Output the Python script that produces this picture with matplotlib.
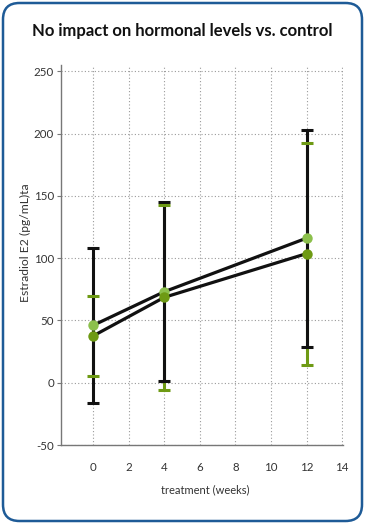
import matplotlib
matplotlib.use("Agg")
import matplotlib.pyplot as plt
from matplotlib.patches import FancyBboxPatch

weeks = [0, 4, 12]
light_mean = [46, 73, 116]
light_err = [62, 72, 87]
dark_mean = [37.5, 68.5, 103.6]
dark_err = [32, 74, 89]
xticks = [0, 2, 4, 6, 8, 10, 12, 14]
yticks = [-50, 0, 50, 100, 150, 200, 250]

LIGHT = "#8cc04c"
DARK = "#6e9a14"
FONT = ["Lato", "DejaVu Sans"]
plt.rcParams['font.family'] = FONT
plt.rcParams['axes.unicode_minus'] = False

fig = plt.figure(figsize=(3.65, 5.24), dpi=100)
W, H = 365, 524
ax = fig.add_axes([61 / W, 1 - 445 / H, (343 - 61) / W, (445 - 65) / H])

# dark series errorbar (green) behind
eb_d = ax.errorbar(weeks, dark_mean, yerr=dark_err, fmt='none', ecolor=DARK,
                   elinewidth=2.2, capsize=4.5, capthick=2.2, zorder=2)
eb_l = ax.errorbar(weeks, light_mean, yerr=light_err, fmt='none', ecolor='#111111',
                   elinewidth=2.2, capsize=4.5, capthick=2.2, zorder=3)
for c in eb_d[1]:
    c.set_zorder(4)

ax.plot(weeks, light_mean, color='#111111', lw=2.3, zorder=5)
ax.plot(weeks, dark_mean, color='#111111', lw=2.3, zorder=5)
ax.plot(weeks, light_mean, 'o', color=LIGHT, ms=7.5, mec='none', zorder=6)
ax.plot(weeks, dark_mean, 'o', color=DARK, ms=7.5, mec='none', zorder=7)

ax.set_xlim(-1.8, 14.05)
ax.set_ylim(-50, 255)
ax.set_xticks(xticks)
ax.set_yticks(yticks)
ax.grid(True, color='#9a9a9a', linestyle=(0, (1, 2)), linewidth=0.8)
ax.set_axisbelow(True)
for s in ['top', 'right']:
    ax.spines[s].set_visible(False)
for s in ['left', 'bottom']:
    ax.spines[s].set_color('#777777')
    ax.spines[s].set_linewidth(1.0)
ax.tick_params(axis='x', length=0, pad=12, labelsize=8.3, labelcolor='#333333')
ax.tick_params(axis='y', length=3, width=0.8, color='#777777', pad=2, labelsize=8.3, labelcolor='#333333')

fig.text(25 / W, 1 - 243 / H, "Estradiol E2 (pg/mL)ta", rotation=90, ha='center', va='center',
         fontsize=8.7, color='#333333')
fig.text(205 / W, 1 - 490 / H, "treatment (weeks)", ha='center', va='center',
         fontsize=8, color='#333333')
fig.text(182 / W, 1 - 31 / H, "No impact on hormonal levels vs. control", ha='center', va='center',
         fontsize=12, fontweight='bold', color='#111111')

border = FancyBboxPatch((3 / W, 3 / H), (W - 6) / W, (H - 6) / H,
                        boxstyle="round,pad=0,rounding_size=0.045",
                        transform=fig.transFigure, fill=False, edgecolor='#1e5b97',
                        linewidth=1.8, mutation_aspect=W / H)
fig.patches.append(border)

fig.savefig("out.png", dpi=100)
